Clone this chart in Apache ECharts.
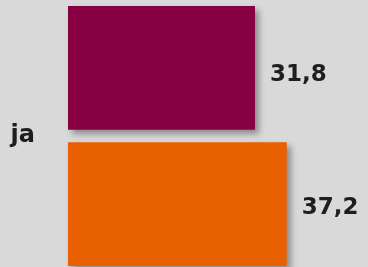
<!DOCTYPE html>
<html>
<head>
<meta charset="utf-8">
<script src="https://cdn.jsdelivr.net/npm/echarts@6/dist/echarts.min.js"></script>
<style>
html,body{margin:0;padding:0;background:#d9d9d9;}
#c{width:368px;height:267px;}
</style>
</head>
<body>
<div id="c"></div>
<script>
var categories = ['ja'];
var seriesNames = ['A', 'B'];
var seriesA = [31.8];
var seriesB = [37.2];
var colors = ['#870041', '#e96000'];

var chart = echarts.init(document.getElementById('c'), null, {renderer: 'canvas'});
function fmt(p) { return String(p.value).replace('.', ','); }
function mk(name, data, color, dy) {
  return {
    name: name,
    type: 'bar',
    data: data,
    barWidth: 124,
    barGap: '10%',
    itemStyle: {
      color: color,
      shadowBlur: 6,
      shadowOffsetX: 4,
      shadowOffsetY: 4,
      shadowColor: 'rgba(0,0,0,0.35)'
    },
    label: {
      show: true,
      position: 'right',
      distance: 15,
      offset: [0, dy],
      formatter: fmt,
      fontFamily: 'DejaVu Sans',
      fontWeight: 'bold',
      fontSize: 23,
      color: '#1e1e1e'
    }
  };
}
chart.setOption({
  backgroundColor: '#d9d9d9',
  animation: false,
  grid: {left: 68, right: 6, top: 6, bottom: 1, containLabel: false},
  xAxis: {type: 'value', min: 0, max: 50, show: false},
  yAxis: {
    type: 'category',
    data: categories,
    inverse: true,
    axisLine: {show: false},
    axisTick: {show: false},
    axisLabel: {
      margin: 33,
      padding: [10, 0, 0, 0],
      fontFamily: 'DejaVu Sans',
      fontWeight: 'bold',
      fontSize: 24,
      color: '#1e1e1e'
    }
  },
  series: [mk(seriesNames[0], seriesA, colors[0], 7), mk(seriesNames[1], seriesB, colors[1], 4)]
});
</script>
</body>
</html>
